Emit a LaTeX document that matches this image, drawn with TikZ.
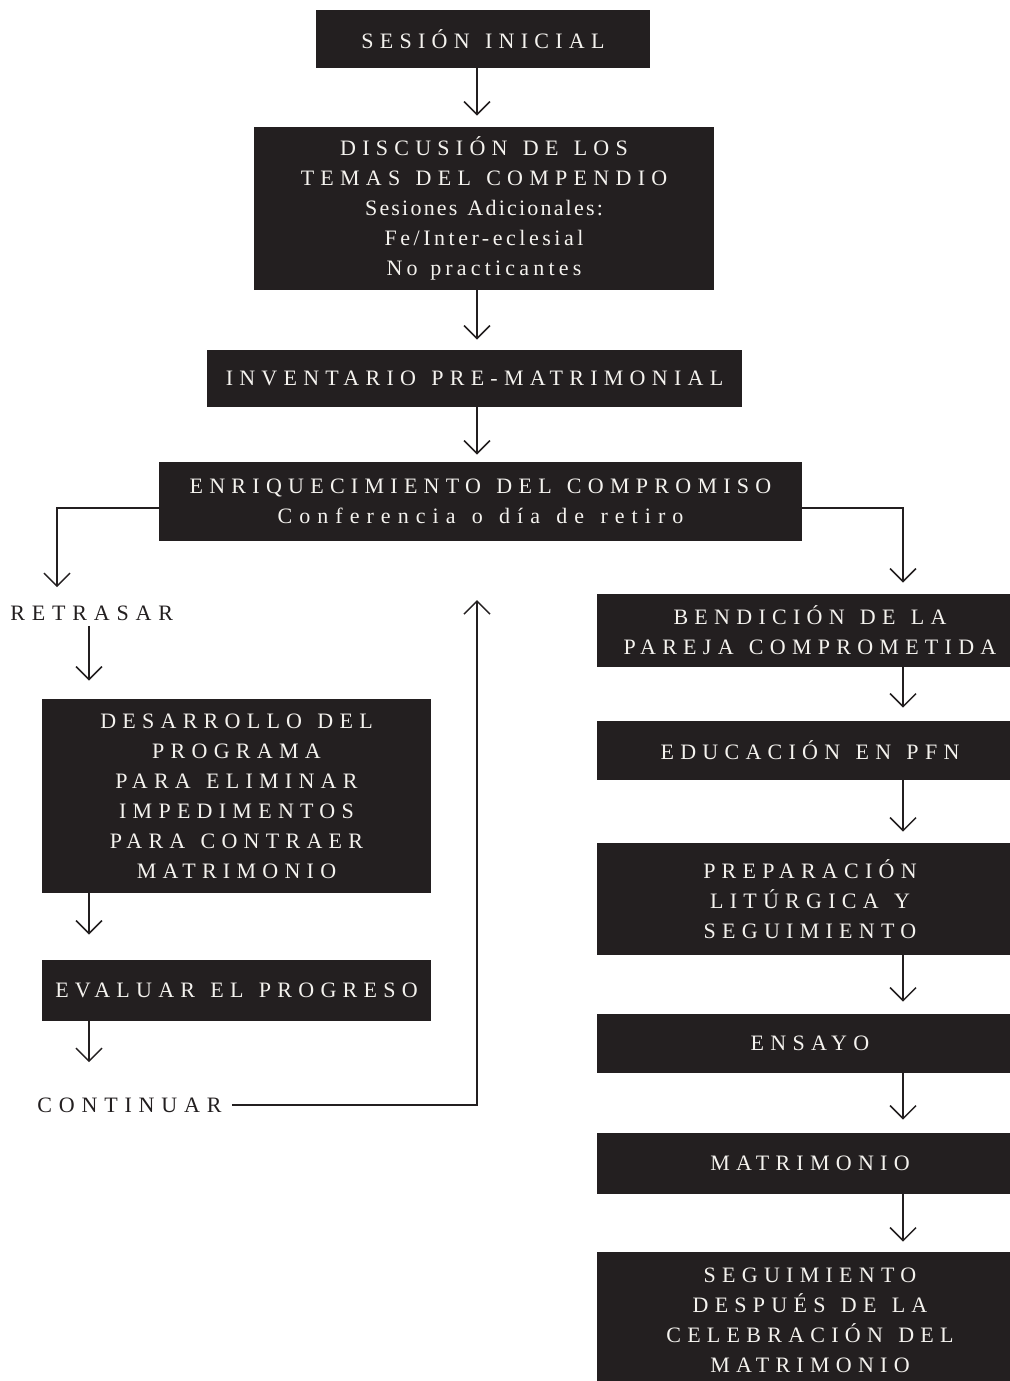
\documentclass[tikz,border=0pt]{standalone}
\usepackage{fontspec}
\setmainfont{Liberation Serif}[WordSpace=1.3]
\usetikzlibrary{arrows.meta}
\definecolor{ink}{HTML}{231F20}
\definecolor{boxtext}{HTML}{F4F2EE}
\newcommand\lsp[1]{\addfontfeature{LetterSpace=#1}}
\tikzset{
  box/.style={fill=ink, text=boxtext, inner sep=0pt, align=center,
    font=\fontsize{11}{15}\selectfont\addfontfeature{LetterSpace=28.5}},
  lbl/.style={text=ink, inner sep=0pt,
    font=\fontsize{11}{15}\selectfont\addfontfeature{LetterSpace=31}},
  arr/.style={draw=ink, line width=0.75pt, -{Straight Barb[length=6.5pt,width=13pt,line width=0.75pt]}},
}
\begin{document}
\begin{tikzpicture}[x=0.5pt,y=-0.5pt]
\useasboundingbox (0,0) rectangle (1010,1381);
\clip (0,0) rectangle (1010,1381);
\fill[white] (0,0) rectangle (1010,1381);

% boxes
\node[box, minimum width=167pt, minimum height=29pt] (b1) at (483,39) {SESIÓN INICIAL};
\node[box, minimum width=230pt, minimum height=81.5pt] (b2) at (484,208.5)
  {DISCUSIÓN DE LOS\\TEMAS DEL COMPENDIO\\\lsp{10}Sesiones Adicionales:\\\lsp{16}Fe/Inter-eclesial\\\lsp{19}No practicantes};
\node[box, minimum width=267.5pt, minimum height=28.5pt] (b3) at (474.5,378.5) {INVENTARIO PRE-MATRIMONIAL};
\node[box, minimum width=321.5pt, minimum height=39.5pt] (b4) at (480.5,501.5)
  {ENRIQUECIMIENTO DEL COMPROMISO\\\lsp{32}Conferencia o día de retiro};
\node[box, minimum width=213pt, minimum height=36.5pt] (b5) at (810,630.5)
  {BENDICIÓN DE LA\\PAREJA COMPROMETIDA};
\node[box, minimum width=194.5pt, minimum height=97pt] (b6) at (236.5,796)
  {DESARROLLO DEL\\PROGRAMA\\PARA ELIMINAR\\IMPEDIMENTOS\\PARA CONTRAER\\MATRIMONIO};
\node[box, minimum width=213pt, minimum height=29.5pt] (b7) at (810,750.5) {EDUCACIÓN EN PFN};
\node[box, minimum width=213pt, minimum height=56pt] (b8) at (810,899)
  {PREPARACIÓN\\LITÚRGICA Y\\SEGUIMIENTO};
\node[box, minimum width=194.5pt, minimum height=30.5pt] (b9) at (236.5,990.5) {EVALUAR EL PROGRESO};
\node[box, minimum width=213pt, minimum height=29.5pt] (b10) at (810,1043.5) {ENSAYO};
\node[box, minimum width=213pt, minimum height=30.5pt] (b11) at (810,1163.5) {MATRIMONIO};
\node[box, minimum width=213pt, minimum height=68pt] (b12) at (810,1320)
  {SEGUIMIENTO\\DESPUÉS DE LA\\CELEBRACIÓN DEL\\MATRIMONIO};

% free labels
\node[lbl, anchor=west] (ret) at (10,613) {RETRASAR};
\node[lbl, anchor=west] (cont) at (37,1105) {CONTINUAR};

% helper coordinates
\coordinate (mx) at (477,0);
\coordinate (lx) at (57,0);
\coordinate (lx2) at (89,0);
\coordinate (rx) at (903,0);
\coordinate (upend) at (477,600);

% main column
\draw[arr, shorten >=5.5pt] (b1.south -| mx) -- (b2.north -| mx);
\draw[arr, shorten >=5pt] (b2.south -| mx) -- (b3.north -| mx);
\draw[arr, shorten >=3.5pt] (b3.south -| mx) -- (b4.north -| mx);

% left branch
\draw[arr, shorten >=9pt] ([yshift=-3.25pt]b4.west) -| (ret.north -| lx);
\draw[arr, shorten <=2.5pt, shorten >=9pt] (ret.south -| lx2) -- (b6.north -| lx2);
\draw[arr, shorten >=12.5pt] (b6.south -| lx2) -- (b9.north -| lx2);
\draw[arr, shorten >=17.5pt] (b9.south -| lx2) -- (cont.north -| lx2);
\draw[arr, shorten <=5pt] (cont.east) -| (upend);

% right branch
\draw[arr, shorten >=5.5pt] ([yshift=-3.25pt]b4.east) -| (b5.north -| rx);
\draw[arr, shorten >=6.5pt] (b5.south -| rx) -- (b7.north -| rx);
\draw[arr, shorten >=5.5pt] (b7.south -| rx) -- (b8.north -| rx);
\draw[arr, shorten >=6pt] (b8.south -| rx) -- (b10.north -| rx);
\draw[arr, shorten >=6.5pt] (b10.south -| rx) -- (b11.north -| rx);
\draw[arr, shorten >=5pt] (b11.south -| rx) -- (b12.north -| rx);
\end{tikzpicture}
\end{document}
